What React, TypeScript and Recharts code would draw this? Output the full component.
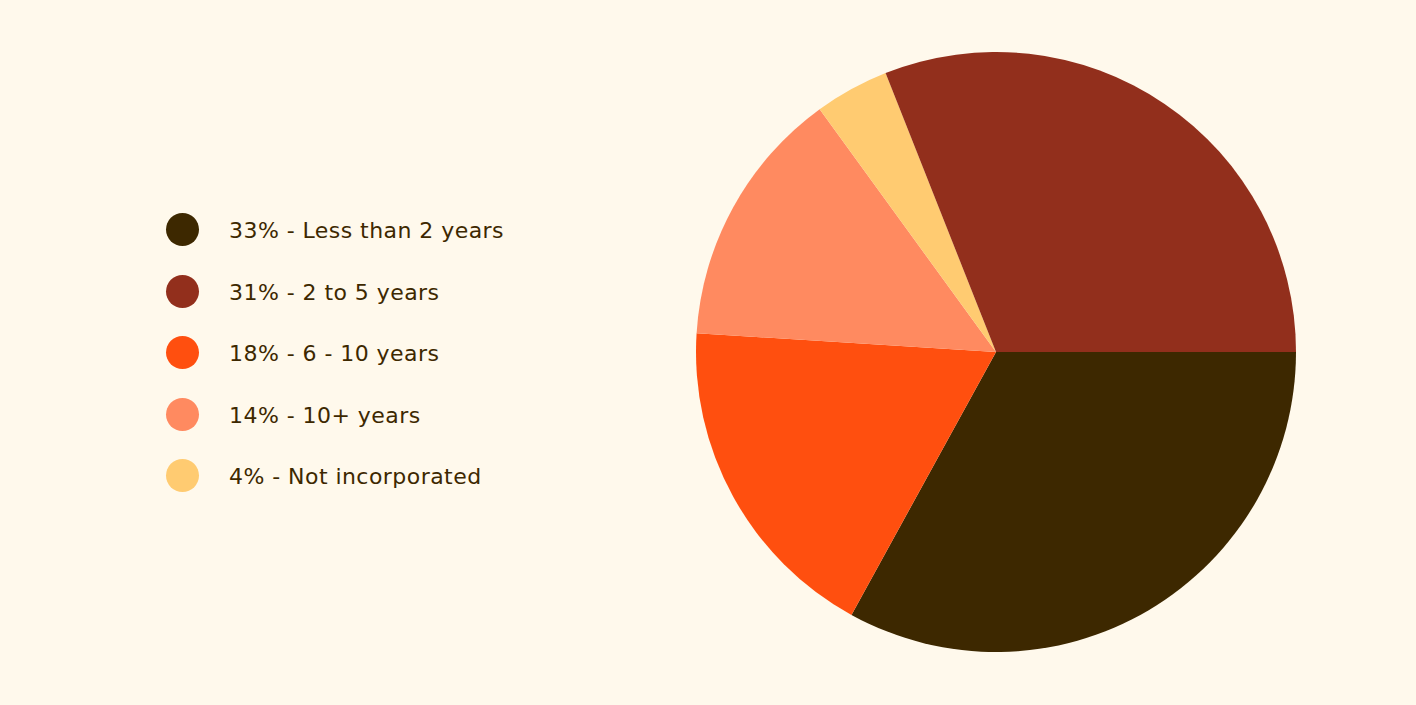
import { PieChart, Pie, Cell } from 'recharts';

// slice order follows the pie, clockwise from 3 o'clock
const sliceLabels = ['Less than 2 years', '6 - 10 years', '10+ years', 'Not incorporated', '2 to 5 years'];
const sliceValues = [33, 18, 14, 4, 31];
const sliceColors = ['#3D2800', '#FF4F0F', '#FF8A60', '#FFCB71', '#922F1C'];

// legend lists the slices in this order
const legendOrder = [0, 4, 1, 2, 3];

const BG = '#FFF9EC';

export default function App() {
  const chartData = sliceLabels.map((name, i) => ({ name, value: sliceValues[i] }));

  return (
    <div
      style={{
        position: 'fixed',
        top: 0,
        left: 0,
        width: 1416,
        height: 705,
        background: BG,
        fontFamily: '"DejaVu Sans", sans-serif',
      }}
    >
      <div style={{ position: 'absolute', left: 166, top: 199 }}>
        {legendOrder.map((idx) => (
          <div
            key={sliceLabels[idx]}
            style={{ display: 'flex', alignItems: 'center', height: 61.5 }}
          >
            <span
              style={{
                width: 33,
                height: 33,
                borderRadius: '50%',
                background: sliceColors[idx],
                display: 'inline-block',
                flexShrink: 0,
              }}
            />
            <span
              style={{
                marginLeft: 30,
                marginTop: 2,
                fontSize: 22,
                color: '#3D2800',
                letterSpacing: 0.45,
                whiteSpace: 'nowrap',
              }}
            >
              {`${sliceValues[idx]}% - ${sliceLabels[idx]}`}
            </span>
          </div>
        ))}
      </div>

      <div style={{ position: 'absolute', left: 0, top: 0 }}>
        <PieChart width={1416} height={705} margin={{ top: 0, right: 0, bottom: 0, left: 0 }}>
          <Pie
            data={chartData}
            dataKey="value"
            nameKey="name"
            cx={996}
            cy={352}
            outerRadius={300}
            startAngle={0}
            endAngle={-360}
            stroke="none"
            isAnimationActive={false}
          >
            {chartData.map((d, i) => (
              <Cell key={d.name} fill={sliceColors[i]} />
            ))}
          </Pie>
        </PieChart>
      </div>
    </div>
  );
}
